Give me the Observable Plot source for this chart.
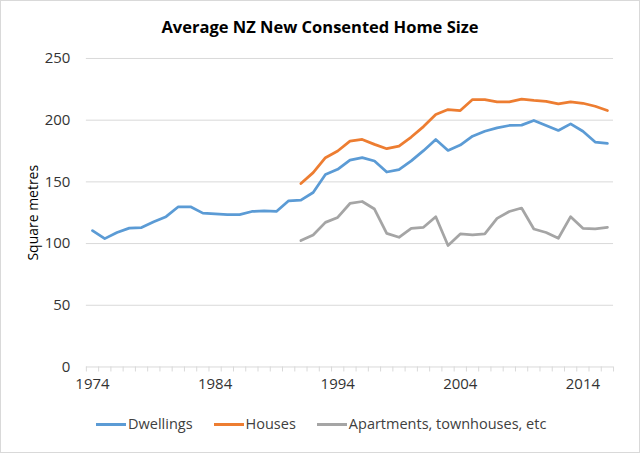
<!DOCTYPE html>
<html>
<head>
<meta charset="utf-8">
<script src="https://cdn.jsdelivr.net/npm/d3@7"></script>
<script src="https://cdn.jsdelivr.net/npm/@observablehq/plot@0.6"></script>
<style>
  html, body { margin: 0; padding: 0; background: #fff; }
  #frame { position: relative; width: 640px; height: 453px; box-sizing: border-box; border: 1px solid #d9d9d9; overflow: hidden; font-family: "Open Sans", sans-serif; }
  #title { position: absolute; top: 15px; left: 0; width: 100%; text-align: center; font-weight: bold; font-size: 16.5px; color: #000; line-height: 22px; }
  #chart { position: absolute; top: 39px; left: -1px; }
  #legend { position: absolute; top: 413px; left: 95px; display: flex; align-items: center; font-size: 14.5px; color: #404040; white-space: nowrap; line-height: 20px; }
  .item { display: flex; align-items: center; margin-right: 21px; }
  .sw { display: inline-block; width: 30px; height: 3px; margin-right: 2px; }
</style>
</head>
<body>
<div id="frame">
  <div id="title">Average NZ New Consented Home Size</div>
  <div id="chart"></div>
  <div id="legend"></div>
</div>
<script>
const years = [1974,1975,1976,1977,1978,1979,1980,1981,1982,1983,1984,1985,1986,1987,1988,1989,1990,
  1991,1992,1993,1994,1995,1996,1997,1998,1999,2000,2001,2002,2003,2004,2005,2006,2007,2008,2009,2010,
  2011,2012,2013,2014,2015,2016];
const labelYears = [1974, 1984, 1994, 2004, 2014];
const yTicks = [0, 50, 100, 150, 200, 250];
const seriesNames = ["Dwellings", "Houses", "Apartments, townhouses, etc"];
const seriesColors = ["#5b9bd5", "#ed7d31", "#a5a5a5"];

const dwellings = [110.5,104,109,112.5,113,117.7,121.8,129.8,129.8,124.7,124,123.5,123.5,126,126.5,126,134.7,
  135.2,141.4,156,160.2,167.7,169.6,166.9,158,160,167,175.3,184.4,175.5,179.8,187,191,193.8,195.7,196,199.8,
  195.7,191.7,197,191,182.3,181.2];
const splitStart = 1991;
const houses = [148.6,157.5,169.6,175,183,184.4,180.4,176.9,179,186.3,194.8,204.6,208.6,207.8,216.7,216.7,
  214.8,214.8,217,216,215.3,213.2,214.8,213.7,211.3,207.8];
const apartments = [102.4,107,117.2,121.2,132.5,134.1,128,108.3,105.1,112.4,113.2,121.8,98.4,107.8,107,107.8,
  120.4,126,128.8,111.8,109,104.3,121.8,112.4,112,113.2];

const splitYears = years.slice(years.indexOf(splitStart));
const rows = [
  ...years.map((yr, i) => ({year: yr, value: dwellings[i], series: seriesNames[0]})),
  ...splitYears.map((yr, i) => ({year: yr, value: houses[i], series: seriesNames[1]})),
  ...splitYears.map((yr, i) => ({year: yr, value: apartments[i], series: seriesNames[2]}))
];
const boundaries = years.map(y => y - 0.5).concat([years[years.length - 1] + 0.5]);

const chart = Plot.plot({
  width: 640,
  height: 365,
  marginLeft: 86,
  marginRight: 26,
  marginTop: 18,
  marginBottom: 38,
  style: {fontFamily: "Open Sans, sans-serif", background: "transparent", overflow: "visible"},
  x: {type: "linear", domain: [boundaries[0], boundaries[boundaries.length - 1]]},
  y: {domain: [0, 250]},
  color: {domain: seriesNames, range: seriesColors},
  marks: [
    Plot.gridY(yTicks.slice(1), {stroke: "#d9d9d9", strokeOpacity: 1, strokeWidth: 1}),
    Plot.axisX({ticks: boundaries, tickSize: 5, tickFormat: () => "", stroke: "#d9d9d9", strokeOpacity: 1, label: null}),
    Plot.ruleY([0], {stroke: "#d9d9d9", strokeWidth: 1}),
    Plot.axisX({ticks: labelYears, tickSize: 0, tickPadding: 11, tickFormat: d => String(d), fontSize: 15, fill: "#333", label: null}),
    Plot.axisY({ticks: yTicks, tickSize: 0, tickPadding: 16, fontSize: 15, fill: "#333", label: null}),
    Plot.axisY({ticks: [], tickSize: 0, fontSize: 14, fill: "#000",
      label: "Square metres", labelAnchor: "center", labelArrow: "none", labelOffset: 58}),
    Plot.line(rows, {x: "year", y: "value", z: "series", stroke: "series", strokeWidth: 2.75, strokeLinejoin: "round", strokeLinecap: "round"})
  ]
});
document.getElementById("chart").appendChild(chart);

const legend = document.getElementById("legend");
seriesNames.forEach((name, i) => {
  const item = document.createElement("div");
  item.className = "item";
  const sw = document.createElement("span");
  sw.className = "sw";
  sw.style.background = seriesColors[i];
  const t = document.createElement("span");
  t.textContent = name;
  item.appendChild(sw);
  item.appendChild(t);
  legend.appendChild(item);
});
</script>
</body>
</html>
